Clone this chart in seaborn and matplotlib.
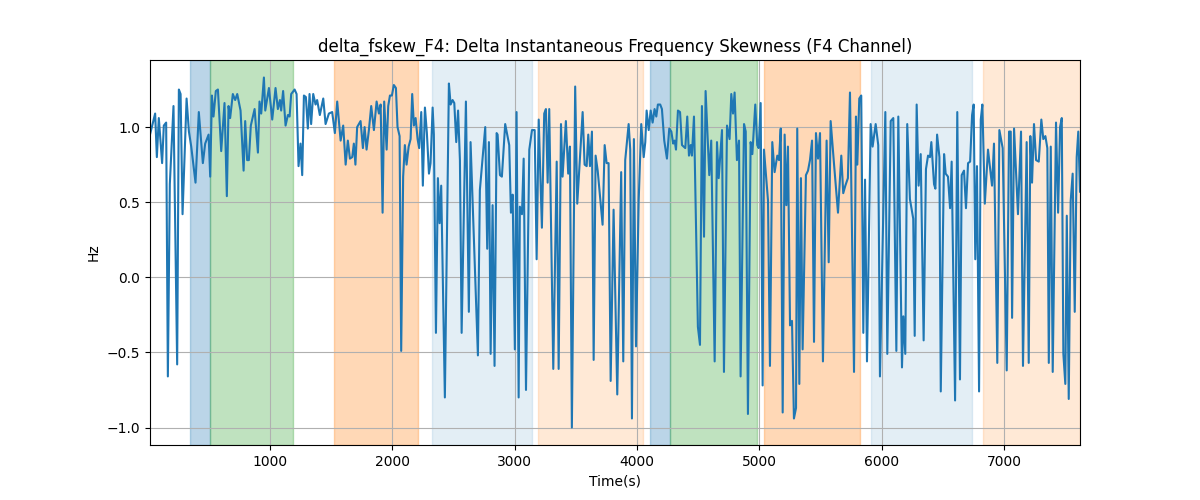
import numpy as np
import pandas as pd
import matplotlib
matplotlib.use('Agg')
import matplotlib.pyplot as plt
import seaborn as sns

# signal vertices (time in s, value in Hz)
time_s = [
    20, 62, 76, 92, 119, 133, 152, 166, 182, 212, 242, 256, 270, 286, 319, 338, 357, 392, 419, 452,
    471, 499, 512, 526, 539, 558, 575, 602, 629, 648, 662, 675, 697, 716, 733, 760, 785, 798, 814, 828,
    844, 875, 902, 915, 929, 951, 962, 992, 1019, 1046, 1065, 1082, 1092, 1108, 1128, 1147, 1161, 1174,
    1202, 1218, 1234, 1250, 1264, 1278, 1294, 1310, 1324, 1337, 1354, 1373, 1386, 1408, 1436, 1455,
    1482, 1509, 1531, 1550, 1578, 1599, 1619, 1637, 1654, 1673, 1686, 1699, 1713, 1741, 1760, 1774,
    1790, 1809, 1828, 1850, 1872, 1891, 1905, 1921, 1934, 1954, 1967, 1981, 1997, 2013, 2030, 2043,
    2060, 2073, 2089, 2103, 2117, 2134, 2150, 2163, 2177, 2191, 2207, 2220, 2237, 2250, 2267, 2283,
    2300, 2313, 2330, 2340, 2357, 2373, 2387, 2400, 2430, 2463, 2477, 2493, 2507, 2523, 2538, 2553,
    2567, 2602, 2626, 2640, 2700, 2716, 2760, 2776, 2790, 2804, 2820, 2836, 2853, 2861, 2880, 2896,
    2923, 2956, 2970, 2984, 3002, 3016, 3033, 3043, 3060, 3074, 3093, 3120, 3142, 3164, 3180, 3197,
    3223, 3242, 3256, 3270, 3283, 3316, 3344, 3360, 3379, 3392, 3419, 3438, 3452, 3468, 3495, 3512,
    3556, 3572, 3589, 3602, 3616, 3632, 3646, 3662, 3679, 3719, 3736, 3752, 3768, 3785, 3809, 3839,
    3871, 3888, 3904, 3932, 3945, 3959, 3975, 3992, 4014, 4035, 4055, 4068, 4079, 4096, 4112, 4128,
    4144, 4158, 4171, 4190, 4204, 4223, 4245, 4264, 4281, 4296, 4308, 4319, 4335, 4352, 4368, 4395,
    4411, 4425, 4439, 4449, 4466, 4498, 4515, 4531, 4548, 4561, 4591, 4607, 4635, 4654, 4668, 4695,
    4711, 4736, 4757, 4771, 4785, 4798, 4817, 4834, 4847, 4875, 4889, 4907, 4929, 4943, 4967, 4983,
    4995, 5011, 5027, 5038, 5071, 5087, 5106, 5125, 5147, 5161, 5175, 5191, 5207, 5221, 5234, 5251,
    5267, 5283, 5300, 5310, 5327, 5340, 5354, 5381, 5398, 5414, 5431, 5447, 5463, 5480, 5496, 5520,
    5550, 5567, 5583, 5610, 5643, 5670, 5686, 5703, 5724, 5741, 5774, 5790, 5801, 5817, 5833, 5850,
    5864, 5880, 5910, 5926, 5951, 5972, 5986, 6030, 6046, 6074, 6095, 6120, 6136, 6166, 6177, 6193,
    6209, 6231, 6258, 6270, 6286, 6302, 6319, 6343, 6362, 6379, 6395, 6406, 6428, 6439, 6453, 6472,
    6483, 6510, 6523, 6542, 6559, 6572, 6600, 6618, 6640, 6654, 6673, 6689, 6706, 6723, 6739, 6752,
    6765, 6779, 6796, 6810, 6823, 6843, 6869, 6902, 6918, 6945, 6962, 6989, 7022, 7041, 7055, 7066,
    7082, 7114, 7139, 7155, 7185, 7202, 7215, 7229, 7245, 7262, 7284, 7305, 7321, 7338, 7354, 7366,
    7382, 7398, 7425, 7442, 7458, 7472, 7485, 7501, 7513, 7529, 7545, 7561, 7578, 7594, 7607, 7621,
]
skew_hz = [
    0.95, 1.09, 0.80, 1.06, 0.76, 1.01, 1.03, -0.66, 0.62, 1.14, -0.58, 1.25, 1.22, 0.42, 1.19, 0.97,
    0.87, 0.63, 1.10, 0.76, 0.89, 0.95, 0.67, 1.21, 1.07, 1.24, 1.25, 0.84, 1.16, 0.54, 1.14, 1.06,
    1.22, 1.18, 1.22, 1.11, 0.71, 1.04, 0.78, 0.78, 1.01, 1.12, 0.83, 1.17, 1.09, 1.33, 1.11, 1.26,
    1.05, 1.26, 1.12, 1.18, 1.11, 1.24, 1.01, 1.08, 1.07, 1.22, 1.25, 1.22, 0.74, 0.89, 0.68, 1.21,
    1.20, 0.99, 1.22, 1.02, 1.22, 1.15, 1.18, 1.08, 1.19, 1.02, 1.09, 1.10, 0.96, 1.17, 0.91, 1.01,
    0.75, 0.91, 0.79, 0.80, 0.89, 0.75, 1.00, 1.04, 0.86, 1.00, 0.85, 0.98, 1.14, 0.98, 1.17, 1.09,
    1.15, 0.43, 1.17, 0.85, 1.14, 1.21, 1.21, 1.28, 1.26, 1.00, 0.94, -0.49, 0.67, 0.88, 0.75, 0.87,
    0.92, 1.22, 1.01, 1.06, 0.92, 0.86, 1.10, 0.61, 1.13, 0.96, 0.69, 0.76, 1.13, 0.95, -0.37, 0.66,
    0.36, 0.61, -0.80, 1.29, 1.15, 1.18, 1.16, 0.90, 1.11, 0.78, -0.37, 1.17, -0.23, 0.90, -0.52, 0.58,
    1.00, 0.19, 0.90, -0.51, 0.48, -0.59, 0.96, 0.95, 0.68, 0.67, 1.02, 0.88, 0.43, 0.55, -0.48, 1.10,
    -0.80, 0.47, 0.42, 0.79, -0.75, 0.85, 0.98, 0.98, 0.12, 1.05, 0.33, 1.09, 1.12, 0.63, 1.12, -0.61,
    0.77, -0.61, 1.02, 0.67, 1.04, 0.69, 0.87, -1.00, 1.27, 0.49, 1.10, 0.75, 0.74, 0.95, 0.74, 0.97,
    -0.55, 0.81, 0.71, 0.35, 0.88, 0.76, 0.76, -0.69, 0.45, -0.78, 0.70, -0.56, 0.78, 1.02, 0.85, -0.94,
    0.92, -0.46, 0.51, 1.02, 0.80, 0.90, 1.11, 0.98, 1.11, 1.03, 1.12, 1.07, 1.15, 1.15, 1.12, 0.91,
    0.79, 0.99, 0.97, 0.89, 0.91, 0.85, 1.11, 1.10, 0.88, 0.86, 1.07, 0.81, 0.88, 0.81, 1.07, -0.33,
    -0.45, 1.14, 0.27, 1.24, 0.68, 0.91, -0.56, 0.90, 0.66, 0.98, -0.63, 1.01, 0.92, 1.22, 1.09, 1.23,
    0.78, 0.91, -0.66, 1.02, 0.97, -0.91, 0.90, 0.82, 1.15, 0.88, 0.86, 1.16, -0.72, 0.85, 0.51, -0.59,
    0.90, 0.70, 0.81, 0.78, 0.99, -0.90, 0.95, 0.48, 0.87, -0.32, -0.29, -0.94, -0.87, 0.99, -0.71, 0.66,
    -0.48, 0.68, 0.71, 0.78, 0.91, -0.43, 0.96, 0.79, 0.96, -0.56, 0.91, 0.10, 1.04, 0.76, 0.43, 0.81,
    0.56, 0.61, 0.66, 1.23, -0.63, 1.07, 0.75, 1.19, 1.21, -0.37, 0.65, -0.56, 1.02, 0.87, 1.02, 0.88,
    -0.66, 1.10, -0.51, 1.04, 1.06, -0.49, 1.07, -0.60, -0.26, -0.51, 1.02, 0.52, 0.39, -0.39, 1.15, 0.61,
    0.82, -0.42, 0.72, 0.81, 0.80, 0.90, 0.62, 0.59, 0.95, 0.80, -0.76, 0.82, 0.69, 0.67, 0.46, 0.77,
    -0.82, 1.10, -0.68, 0.68, 0.71, 0.46, 0.76, 0.77, 1.08, 1.15, 0.12, 0.74, -0.76, 1.05, 1.15, 0.49,
    0.85, 0.61, 0.89, -0.57, 0.98, 0.86, -0.62, 0.97, 0.97, -0.27, 0.99, 0.42, 0.97, -0.59, 0.90, -0.57,
    0.94, 0.63, 1.02, 0.78, 0.77, 1.05, 0.92, 0.94, 0.86, -0.57, 0.87, -0.63, 1.03, 0.43, 1.00, 1.06,
    -0.51, -0.71, 0.41, -0.81, 0.51, 0.69, -0.23, 0.80, 0.97, 0.57,
]

# shaded segments: start, end, colour, alpha
span_start = [346, 509, 1524, 2325, 3190, 4106, 4270, 5038, 5912, 6828]
span_end = [509, 1188, 2210, 3142, 4048, 4270, 4981, 5823, 6738, 7621]
span_color = ['C0', 'C2', 'C1', 'C0', 'C1', 'C0', 'C2', 'C1', 'C0', 'C1']
span_alpha = [0.3, 0.3, 0.3, 0.12, 0.17, 0.3, 0.3, 0.3, 0.12, 0.17]

df = pd.DataFrame({'Time(s)': time_s, 'Hz': skew_hz})

fig, ax = plt.subplots(figsize=(12, 5), dpi=100)

for s, e, c, a in zip(span_start, span_end, span_color, span_alpha):
    ax.axvspan(s, e, color=c, alpha=a)

sns.lineplot(data=df, x='Time(s)', y='Hz', ax=ax, color='C0', linewidth=1.5)

ax.set_xlim(min(time_s), max(time_s))
ax.set_title('delta_fskew_F4: Delta Instantaneous Frequency Skewness (F4 Channel)')
ax.set_xlabel('Time(s)')
ax.set_ylabel('Hz')
ax.grid(True)

fig.savefig('out.png', dpi=100)
